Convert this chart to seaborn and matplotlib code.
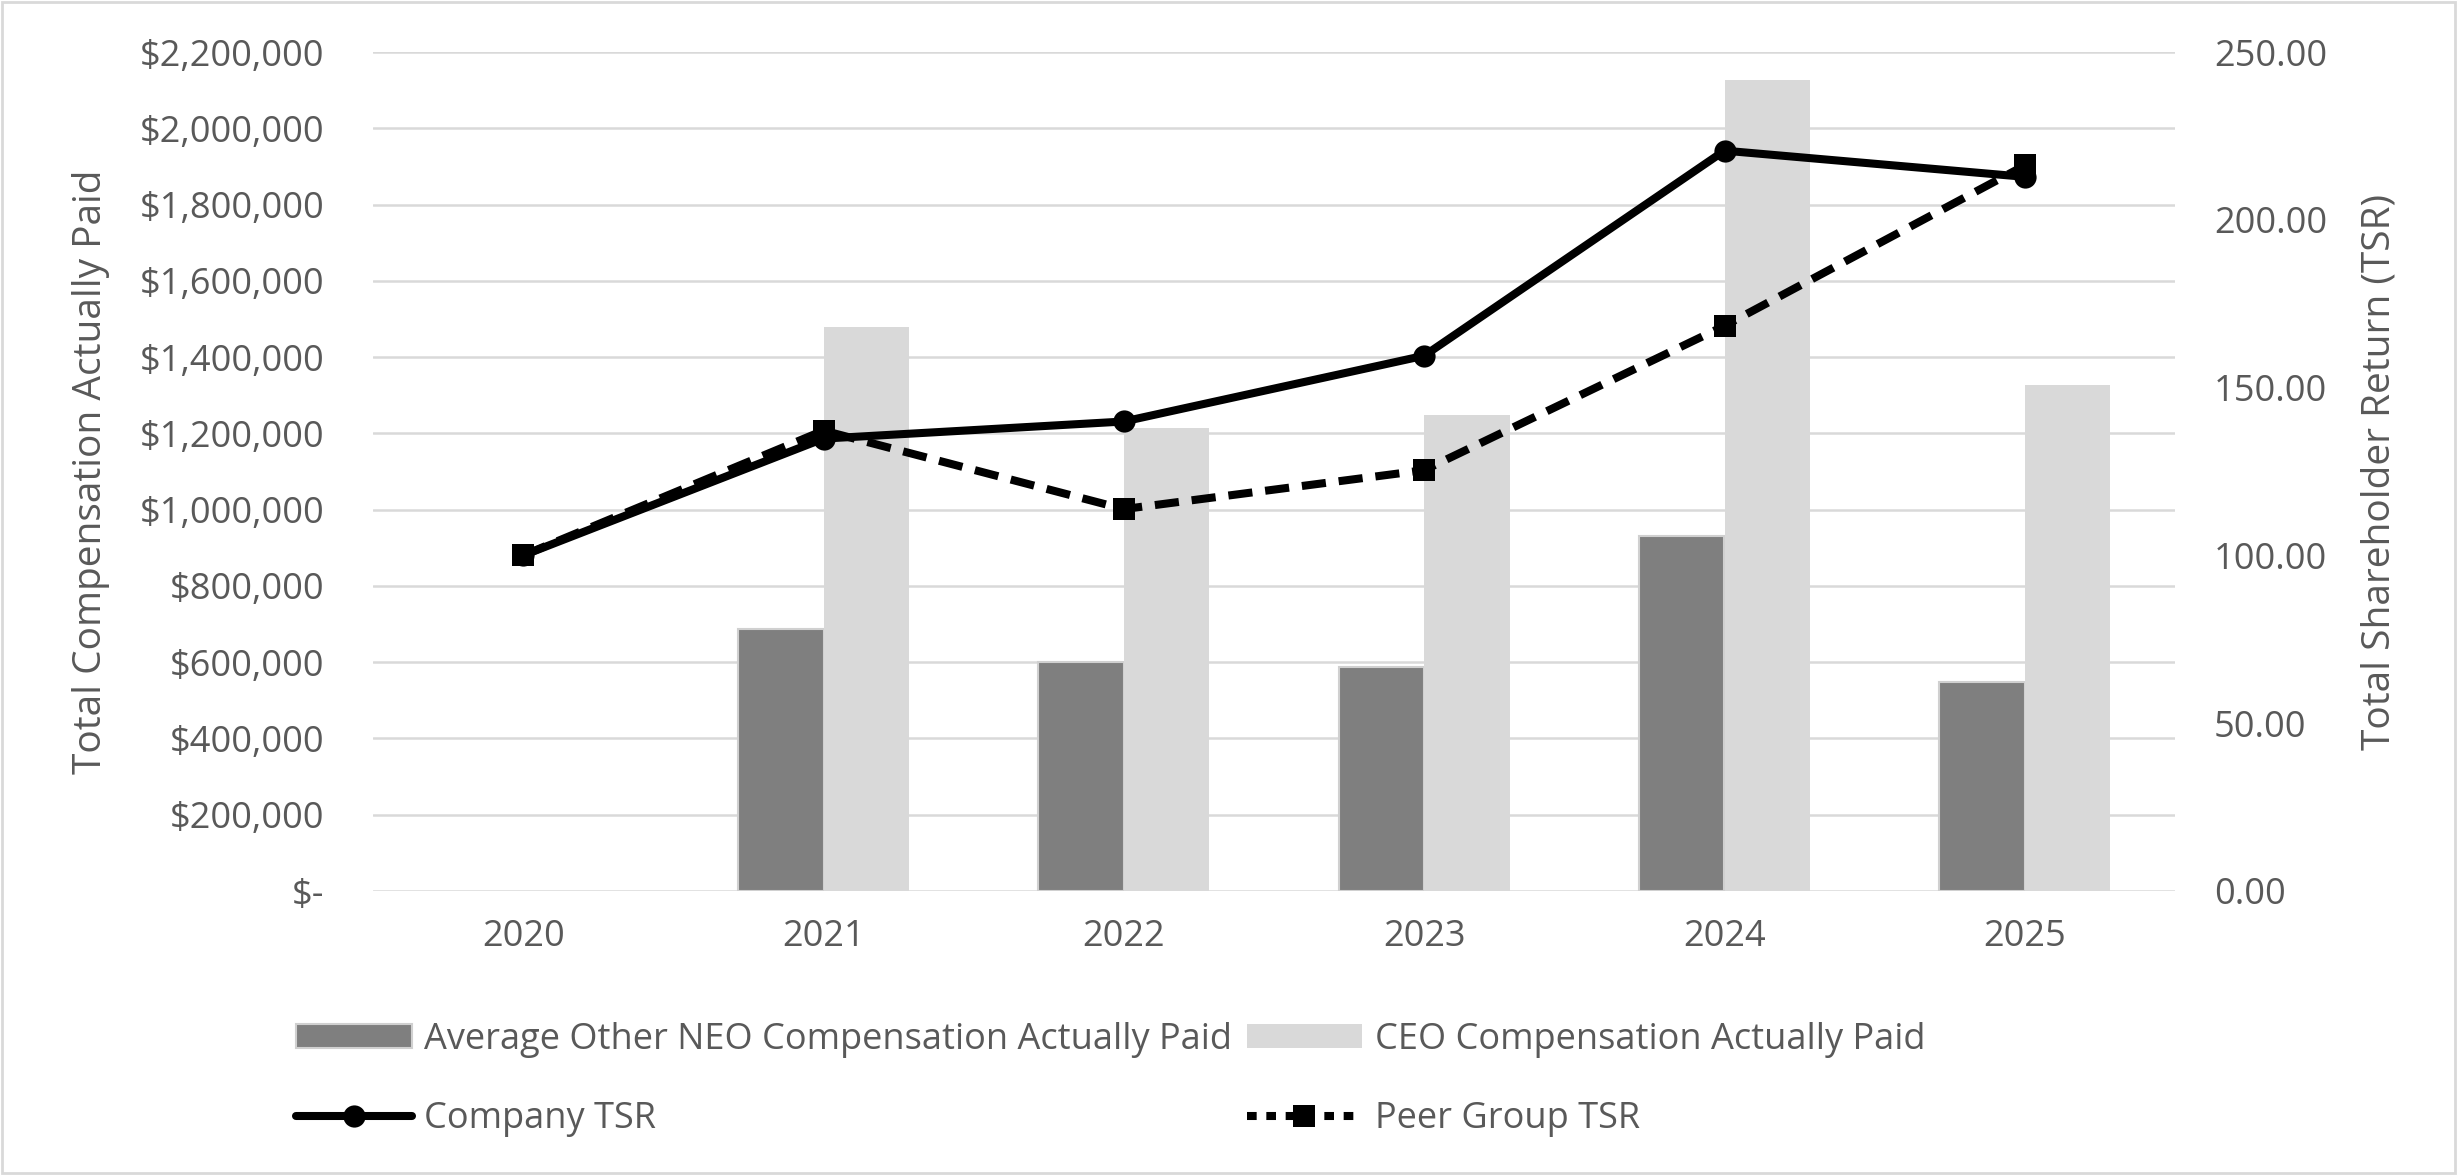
import matplotlib
matplotlib.use("Agg")
import matplotlib.pyplot as plt
import matplotlib.patches as mpatches
from matplotlib.lines import Line2D
from matplotlib.ticker import FuncFormatter, MultipleLocator
import seaborn as sns
import pandas as pd
import numpy as np

years = ["2020", "2021", "2022", "2023", "2024", "2025"]
neo_cap = [0, 686000, 600000, 588000, 932000, 549000]
ceo_cap = [0, 1478000, 1215000, 1248000, 2126000, 1326000]
company_tsr = [100.0, 134.8, 139.9, 159.5, 220.6, 212.8]
peer_tsr = [100.0, 137.2, 113.8, 125.4, 168.4, 216.2]

neo_label = "Average Other NEO Compensation Actually Paid"
ceo_label = "CEO Compensation Actually Paid"
comp_label = "Company TSR"
peer_label = "Peer Group TSR"

TXT = "#595959"
GRID = "#d9d9d9"
DARK = "#7f7f7f"
LIGHT = "#d9d9d9"

sns.set_theme(style="white")
plt.rcParams["font.family"] = ["Open Sans", "DejaVu Sans"]

fig = plt.figure(figsize=(24.57, 11.75), dpi=100)
ax = fig.add_axes([373/2457, 1-891/1175, 1802/2457, 839/1175])

df = pd.DataFrame({
    "Year": years * 2,
    "Value": neo_cap + ceo_cap,
    "Series": [neo_label] * len(years) + [ceo_label] * len(years),
})
sns.barplot(data=df, x="Year", y="Value", hue="Series", order=years,
            hue_order=[neo_label, ceo_label], palette=[DARK, LIGHT],
            width=0.57, gap=0, saturation=1, legend=False, ax=ax, zorder=2)
for p in ax.patches[:len(years)]:
    p.set_edgecolor("#d0d0d0")
    p.set_linewidth(1.5 if p.get_height() > 0 else 0)
for p in ax.patches[len(years):]:
    p.set_linewidth(0)

ax.set_xlim(-0.5, len(years) - 0.5)
ax.set_ylim(0, 2200000)
ax.yaxis.set_major_locator(MultipleLocator(200000))
ax.yaxis.set_major_formatter(FuncFormatter(lambda v, p: "$-" if v == 0 else f"${v:,.0f}"))
ax.grid(axis="y", color=GRID, linewidth=1.8, zorder=0)
ax.set_axisbelow(True)
for s in ax.spines.values():
    s.set_visible(False)
ax.tick_params(axis="y", length=0, pad=35, labelsize=26, labelcolor=TXT)
ax.tick_params(axis="x", length=0, pad=20, labelsize=26, labelcolor=TXT)
ax.set_xlabel("")
ax.set_ylabel("Total Compensation Actually Paid", fontsize=28, color=TXT)
ax.yaxis.set_label_coords(-0.146, 0.5)

ax2 = ax.twinx()
pos = np.arange(len(years))
sns.lineplot(x=pos, y=company_tsr, ax=ax2, color="black", linewidth=5.8,
             marker="o", markersize=16, markeredgewidth=0, zorder=5)
sns.lineplot(x=pos, y=peer_tsr, ax=ax2, color="black", linewidth=5.8,
             marker="s", markersize=16, markeredgewidth=0, zorder=4,
             dashes=False)
ax2.lines[1].set_dashes([3, 1.6])
ax2.set_ylim(0, 250)
ax2.yaxis.set_major_locator(MultipleLocator(50))
ax2.yaxis.set_major_formatter(FuncFormatter(lambda v, p: f"{v:.2f}"))
for s in ax2.spines.values():
    s.set_visible(False)
ax2.tick_params(axis="y", length=0, pad=28, labelsize=26, labelcolor=TXT)
ax2.set_ylabel("Total Shareholder Return (TSR)", fontsize=28, color=TXT)
ax2.yaxis.set_label_coords(1.103, 0.5)
ax2.grid(False)

handles = [
    mpatches.Patch(facecolor=DARK, edgecolor="#d0d0d0", linewidth=1.5, label=neo_label),
    Line2D([0], [0], color="black", lw=5.8, marker="o", markersize=16, markeredgewidth=0, label=comp_label),
    mpatches.Patch(facecolor=LIGHT, edgecolor="none", label=ceo_label),
    Line2D([0], [0], color="black", lw=5.8, marker="s", markersize=16, markeredgewidth=0,
           dashes=[1.2, 1.2], label=peer_label),
]
leg = fig.legend(handles=handles, ncol=2, loc="upper left",
                 bbox_to_anchor=(296/2457, 1-1022/1175), frameon=False,
                 fontsize=26, labelcolor=TXT, handlelength=3.2, handleheight=0.65,
                 handletextpad=0.35, columnspacing=0.4, labelspacing=1.2,
                 borderpad=0, borderaxespad=0)

fig.patches.append(mpatches.Rectangle((0.001, 0.002), 0.998, 0.996, transform=fig.transFigure,
                                      fill=False, edgecolor=GRID, linewidth=2))

fig.savefig("out.png", dpi=100)
